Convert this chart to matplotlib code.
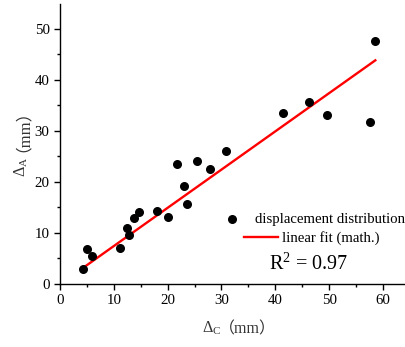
import numpy as np
import matplotlib
matplotlib.use('Agg')
import matplotlib.pyplot as plt

plt.rcParams['font.family'] = ['Liberation Serif', 'Noto Sans CJK SC']
plt.rcParams['mathtext.fontset'] = 'custom'
plt.rcParams['mathtext.rm'] = 'Liberation Serif'
plt.rcParams['mathtext.it'] = 'Liberation Serif:italic'

# measured displacements (mm)
delta_c = [4.3, 5.0, 6.0, 11.1, 12.5, 12.9, 13.7, 14.7, 17.95, 20.1, 21.7,
           23.0, 23.65, 25.4, 27.9, 30.8, 41.5, 46.2, 49.7, 57.6, 58.6]
delta_a = [2.95, 6.75, 5.4, 7.1, 11.0, 9.5, 12.9, 14.0, 14.2, 13.1, 23.4,
           19.1, 15.7, 24.0, 22.6, 26.0, 33.55, 35.6, 33.2, 31.65, 47.7]

# linear fit
fit_slope = 0.749
fit_intercept = -0.07
r2_text = 'R$^2$ = 0.97'

W, H = 406, 347
fig = plt.figure(figsize=(W / 100, H / 100), dpi=100)
ax = fig.add_axes([0.148, 0.182, 0.852, 0.807])

pts = ax.scatter(delta_c, delta_a, s=30, c='black', zorder=3)
xf = np.array([min(delta_c), max(delta_c)])
fit_line, = ax.plot(xf, fit_slope * xf + fit_intercept, color='red', lw=1.7, zorder=2)

ax.set_xlim(0, 64.3)
ax.set_ylim(0, 54.9)
ax.set_xticks(range(0, 61, 10))
ax.set_yticks(range(0, 51, 10))
ax.set_xticks(range(5, 65, 10), minor=True)
ax.set_yticks(range(5, 55, 10), minor=True)
ax.tick_params(which='major', length=4, width=1, labelsize=10.7, colors='black')
ax.tick_params(which='minor', length=2.5, width=1)
for s in ['top', 'right']:
    ax.spines[s].set_visible(False)
for s in ['left', 'bottom']:
    ax.spines[s].set_linewidth(1)

# axis labels: math part + full-width parens (needs CJK font)
lab_col = '#333333'
cjk = ['Liberation Serif', 'Noto Sans CJK SC']
fig.text(221 / W, 1 - 333 / H, r'$\Delta_\mathrm{C}$', ha='right', va='baseline',
         fontsize=11.5, color=lab_col)
fig.text(219 / W, 1 - 333 / H, '（mm）', ha='left', va='baseline',
         fontsize=11.5, color=lab_col, family=cjk)
fig.text(30 / W, 1 - 157 / H, r'$\Delta_\mathrm{A}$', ha='right', va='top',
         rotation=90, fontsize=11.5, color=lab_col)
fig.text(14.5 / W, 1 - 152 / H, '（mm）', ha='center', va='bottom',
         rotation=90, fontsize=12, color=lab_col, family=cjk)

leg1 = ax.legend([pts], ['displacement distribution'], loc='upper left',
                 bbox_to_anchor=(0.445, 0.282), frameon=False, fontsize=10.6,
                 handletextpad=0.75, borderpad=0, handlelength=1.5)
ax.add_artist(leg1)
ax.legend([fit_line], ['linear fit (math.)'], loc='upper left',
          bbox_to_anchor=(0.51, 0.214), frameon=False, fontsize=10.6,
          handletextpad=0.3, borderpad=0, handlelength=2.3)

ax.text(0.605, 0.05, r2_text, transform=ax.transAxes, fontsize=14.5)

fig.savefig('out.png', dpi=100)
